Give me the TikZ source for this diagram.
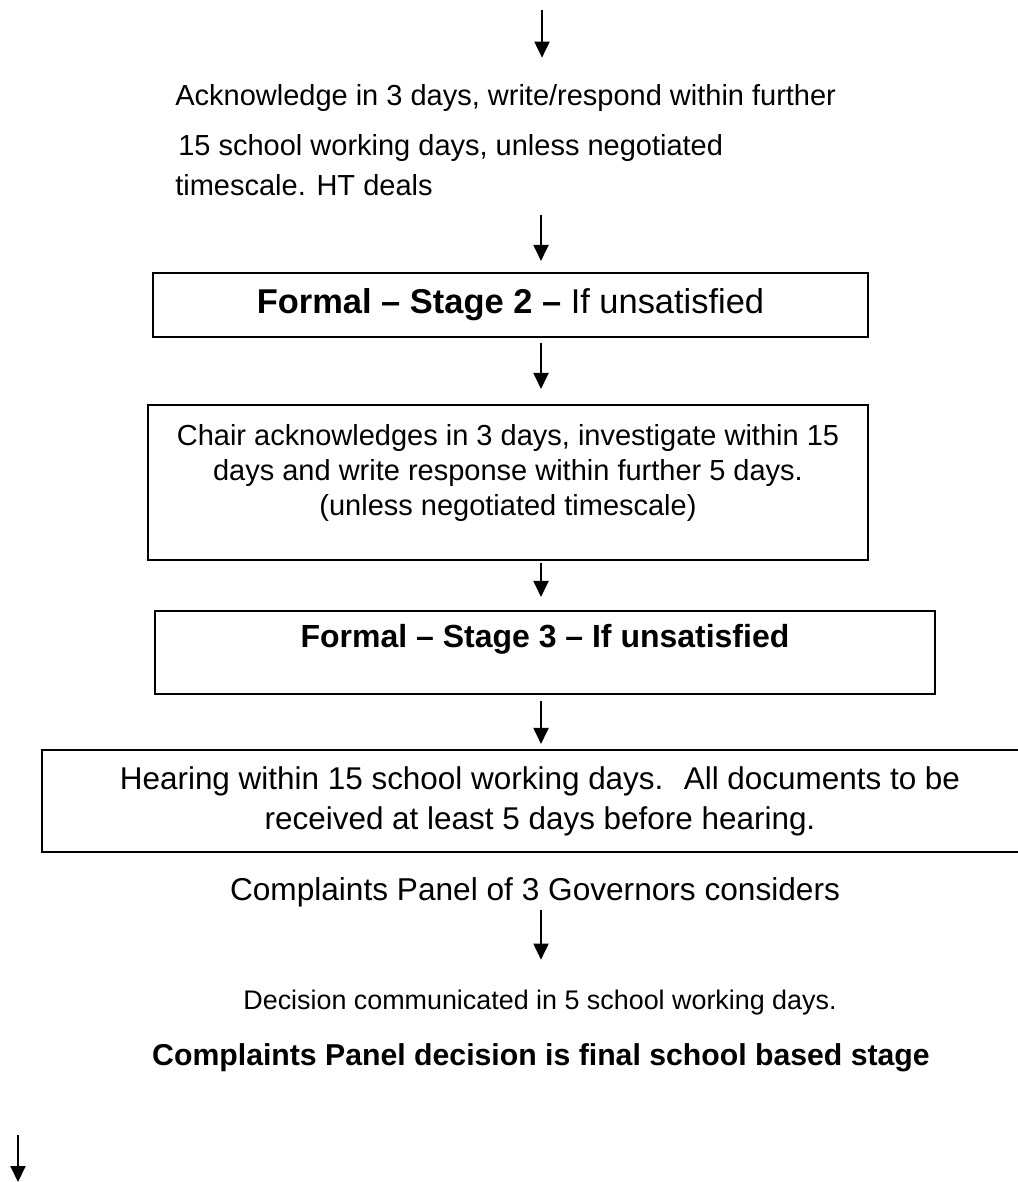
\documentclass[tikz,border=0pt]{standalone}
\usepackage{fontspec}
\setmainfont{Liberation Sans}
\usetikzlibrary{arrows.meta}

\tikzset{
  flowbox/.style={draw, line width=1.2pt, inner sep=0pt},
  flowtext/.style={inner sep=0pt, align=center, font=\fontsize{16.5}{19.9}\selectfont},
  lonetext/.style={inner sep=0pt, font=\fontsize{16.5}{19.9}\selectfont, text height=12.4pt, text depth=4.1pt},
  flowarrow/.style={line width=1.1pt, -{Triangle[width=0.3cm,length=0.32cm]}},
}

\begin{document}
\begin{tikzpicture}[x=0.02cm, y=-0.02cm]
  \useasboundingbox (0,0) rectangle (1017,1182);
  \coordinate (axis) at (541,0);

  % informal stage
  \coordinate (topin) at (542,10);
  \node[lonetext, anchor=west] (ack1) at (175,98) {Acknowledge in 3 days, write/respond within further};
  \node[lonetext, anchor=west] (ack2) at (178,148) {15 school working days, unless negotiated};
  \node[lonetext, anchor=west] (ack3) at (175,188) {timescale. HT deals};

  % stage 2
  \node[flowbox, flowtext, minimum width=14.3cm, minimum height=1.28cm,
        font=\fontsize{19.6}{23}\selectfont] (stage2) at (510.5,305)
    {\textbf{Formal – Stage 2 –} If unsatisfied};
  \node[flowbox, minimum width=14.4cm, minimum height=3.1cm] (chairbox) at (508,482.5) {};
  \node[flowtext] (chair) at (508,473)
    {Chair acknowledges in 3 days, investigate within 15\\
     days and write response within further 5 days.\\
     (unless negotiated timescale)};

  % stage 3
  \node[flowbox, minimum width=15.6cm, minimum height=1.66cm] (stage3box) at (545,652.5) {};
  \node[lonetext, font=\fontsize{18.2}{21}\selectfont] (stage3) at (545,640) {\textbf{Formal – Stage 3 – If unsatisfied}};
  \node[flowbox, flowtext, minimum width=19.92cm, minimum height=2.04cm,
        font=\fontsize{17.9}{22.7}\selectfont] (hearing) at (540,801)
    {Hearing within 15 school working days.~ All documents to be\\
     received at least 5 days before hearing.};

  \node[lonetext, font=\fontsize{18}{21}\selectfont] (panel) at (535,893) {Complaints Panel of 3 Governors considers};
  \node[lonetext, font=\fontsize{15.3}{18}\selectfont] (decision) at (540,1002) {Decision communicated in 5 school working days.};
  \node[lonetext, font=\fontsize{17.2}{20}\selectfont] (final) at (541,1058) {\textbf{Complaints Panel decision is final school based stage}};
  \coordinate (outtop) at (18,1135);
  \coordinate (outend) at (18,1182);

  % arrows
  \draw[flowarrow, shorten >=0.51cm] (topin) -- (topin |- ack1.north);
  \draw[flowarrow, shorten <=0.25cm, shorten >=0.22cm] (ack3.south -| axis) -- (stage2.north -| axis);
  \draw[flowarrow, shorten <=0.1cm, shorten >=0.3cm] (stage2.south -| axis) -- (chairbox.north -| axis);
  \draw[flowarrow, shorten <=0.04cm, shorten >=0.26cm] (chairbox.south -| axis) -- (stage3box.north -| axis);
  \draw[flowarrow, shorten <=0.12cm, shorten >=0.1cm] (stage3box.south -| axis) -- (hearing.north -| axis);
  \draw[flowarrow, shorten <=0.05cm, shorten >=0.55cm] (panel.south -| axis) -- (decision.north -| axis);
  \draw[flowarrow] (outtop) -- (outend);
\end{tikzpicture}
\end{document}
